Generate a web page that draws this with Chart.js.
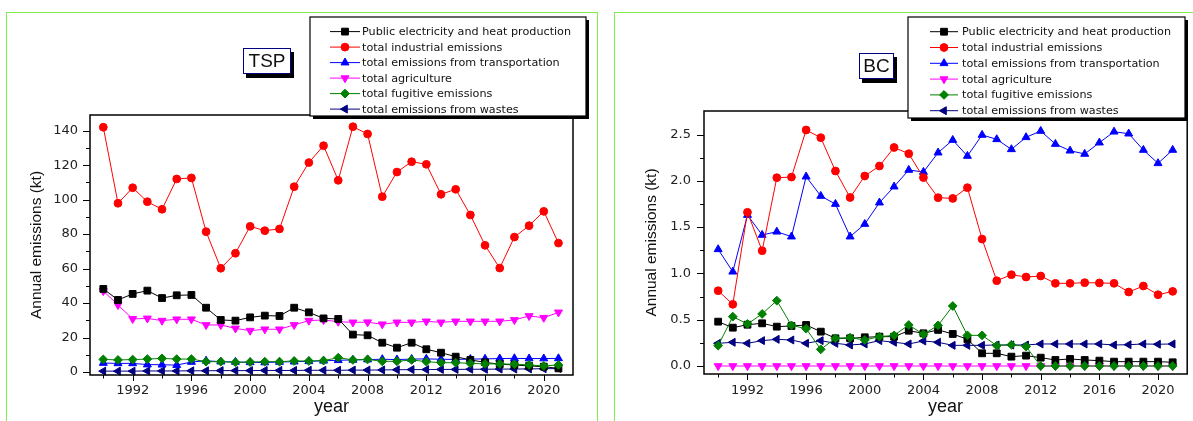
<!DOCTYPE html>
<html>
<head>
<meta charset="utf-8">
<script src="https://cdn.jsdelivr.net/npm/chart.js@4/dist/chart.umd.min.js"></script>
<style>
  html, body { margin: 0; padding: 0; background: #fff; width: 1193px; height: 421px; overflow: hidden; position: relative; }
  canvas { position: absolute; top: 0; }
  .panel { position: absolute; top: 12px; height: 420px; border: 1px solid #7fec4e; border-bottom: none; }
</style>
</head>
<body>
<div class="panel" style="left:6px; width:590px;"></div>
<div class="panel" style="left:614px; width:620px;"></div>
<canvas id="tsp" width="600" height="421" style="left:0;"></canvas>
<canvas id="bc" width="593" height="421" style="left:600px;"></canvas>
<script>
// ---- data ----
const years = [1990, 1991, 1992, 1993, 1994, 1995, 1996, 1997, 1998, 1999,
               2000, 2001, 2002, 2003, 2004, 2005, 2006, 2007, 2008, 2009,
               2010, 2011, 2012, 2013, 2014, 2015, 2016, 2017, 2018, 2019,
               2020, 2021];

const seriesNames = [
  'Public electricity and heat production',
  'total industrial emissions',
  'total emissions from transportation',
  'total agriculture',
  'total fugitive emissions',
  'total emissions from wastes'
];

// TSP (kt)
const tspPublic      = [48.2, 41.8, 45.3, 47.2, 42.9, 44.5, 44.7, 37.3, 30.2, 29.8,
                        31.7, 32.7, 32.5, 37.3, 34.6, 31.1, 30.8, 21.7, 21.3, 17.0,
                        14.1, 17.0, 13.2, 11.2, 8.9, 7.0, 5.6, 4.5, 4.1, 3.5,
                        3.1, 2.1];
const tspIndustrial  = [142.0, 97.9, 106.9, 98.8, 94.4, 112.0, 112.6, 81.4, 60.2, 68.9,
                        84.5, 82.0, 83.0, 107.5, 121.5, 131.3, 111.2, 142.3, 138.1, 101.7,
                        116.0, 122.0, 120.5, 103.1, 106.0, 91.1, 73.5, 60.3, 78.3, 84.9,
                        93.2, 74.8];
const tspTransport   = [5.2, 5.0, 5.0, 4.3, 4.2, 4.0, 5.8, 6.5, 6.0, 5.8,
                        5.6, 5.5, 5.8, 6.0, 6.2, 6.5, 6.8, 7.0, 7.2, 7.4,
                        7.2, 7.5, 7.6, 7.4, 7.3, 7.5, 7.6, 7.8, 7.9, 7.8,
                        7.8, 7.9];
const tspAgriculture = [47.0, 38.9, 30.8, 31.1, 29.8, 30.6, 30.6, 27.3, 27.3, 25.3,
                        24.0, 24.8, 24.8, 27.3, 29.8, 30.2, 29.2, 28.8, 28.9, 27.7,
                        28.8, 28.8, 29.4, 28.8, 29.4, 29.4, 29.4, 29.4, 30.2, 32.5,
                        31.5, 34.6];
const tspFugitive    = [7.3, 7.0, 7.2, 7.5, 7.9, 7.5, 7.5, 6.0, 6.0, 5.6,
                        5.8, 6.0, 6.0, 6.4, 6.4, 6.6, 8.3, 7.0, 7.3, 6.2,
                        6.2, 7.0, 6.0, 5.4, 5.4, 5.0, 4.7, 4.7, 4.5, 4.1,
                        3.5, 4.1];
const tspWastes      = [0.5, 0.5, 0.5, 0.6, 0.6, 0.6, 0.7, 0.7, 0.8, 0.8,
                        0.8, 0.9, 0.9, 0.9, 1.0, 1.0, 1.0, 1.1, 1.1, 1.2,
                        1.3, 1.4, 1.4, 1.5, 1.5, 1.6, 1.6, 1.7, 1.7, 1.8,
                        1.9, 2.0];

// BC (kt)
const bcPublic      = [0.479, 0.414, 0.446, 0.461, 0.425, 0.432, 0.443, 0.371, 0.299, 0.299,
                       0.310, 0.317, 0.317, 0.381, 0.353, 0.390, 0.346, 0.288, 0.137, 0.137,
                       0.101, 0.112, 0.090, 0.065, 0.076, 0.065, 0.058, 0.047, 0.047, 0.047,
                       0.047, 0.040];
const bcIndustrial  = [0.813, 0.666, 1.660, 1.245, 2.034, 2.040, 2.549, 2.466, 2.106, 1.820,
                       2.052, 2.160, 2.360, 2.293, 2.035, 1.818, 1.810, 1.926, 1.371, 0.921,
                       0.986, 0.961, 0.972, 0.893, 0.893, 0.900, 0.897, 0.893, 0.799, 0.864,
                       0.770, 0.806];
const bcTransport   = [1.260, 1.018, 1.630, 1.415, 1.450, 1.397, 2.045, 1.836, 1.749, 1.397,
                       1.533, 1.764, 1.937, 2.117, 2.095, 2.304, 2.440, 2.268, 2.495, 2.448,
                       2.340, 2.470, 2.538, 2.397, 2.325, 2.290, 2.412, 2.530, 2.509, 2.333,
                       2.189, 2.333];
const bcAgriculture = [0, 0, 0, 0, 0, 0, 0, 0, 0, 0,
                       0, 0, 0, 0, 0, 0, 0, 0, 0, 0,
                       0, 0, 0, 0, 0, 0, 0, 0, 0, 0,
                       0, 0];
const bcFugitive    = [0.220, 0.533, 0.454, 0.562, 0.706, 0.439, 0.403, 0.180, 0.299, 0.306,
                       0.281, 0.317, 0.331, 0.443, 0.342, 0.439, 0.648, 0.331, 0.331, 0.220,
                       0.230, 0.210, 0, 0, 0, 0, 0, 0, 0, 0,
                       0, 0];
const bcWastes      = [0.245, 0.256, 0.245, 0.274, 0.288, 0.281, 0.245, 0.274, 0.245, 0.227,
                       0.238, 0.274, 0.256, 0.238, 0.270, 0.256, 0.223, 0.223, 0.223, 0.227,
                       0.227, 0.227, 0.238, 0.238, 0.238, 0.238, 0.238, 0.227, 0.230, 0.238,
                       0.235, 0.238];

// tick positions
const xMajorTicks   = [1992, 1996, 2000, 2004, 2008, 2012, 2016, 2020];
const xMinorTicks   = [1990, 1994, 1998, 2002, 2006, 2010, 2014, 2018];
const tspMajorTicks = [0, 20, 40, 60, 80, 100, 120, 140];
const tspMinorTicks = [10, 30, 50, 70, 90, 110, 130];
const bcMajorTicks  = [0, 0.5, 1.0, 1.5, 2.0, 2.5];
const bcMinorTicks  = [0.25, 0.75, 1.25, 1.75, 2.25];

// ---- styling ----
const seriesColors = ['#000000', '#ff0000', '#0000ff', '#ff00ff', '#008000', '#000080'];
const markerStyles = ['rect', 'circle', 'triangle', 'triangle', 'rectRot', 'triangle'];
const markerAngles = [0, 0, 0, 180, 0, 270];
const markerSizes  = [4.8, 3.9, 4.6, 4.6, 4.4, 4.6];

// marker outline shared by the legend samples (same geometry as Chart.js point styles)
function drawMarker(ctx, style, angle, r, x, y) {
  const rad = angle * Math.PI / 180;
  ctx.beginPath();
  if (style === 'circle') {
    ctx.arc(x, y, r, 0, Math.PI * 2);
  } else if (style === 'rect') {
    const s = Math.SQRT1_2 * r;
    ctx.rect(x - s, y - s, 2 * s, 2 * s);
  } else if (style === 'rectRot') {
    ctx.moveTo(x, y - r); ctx.lineTo(x + r, y); ctx.lineTo(x, y + r); ctx.lineTo(x - r, y);
    ctx.closePath();
  } else {
    let a = rad;
    ctx.moveTo(x + Math.sin(a) * r, y - Math.cos(a) * r);
    a += 2 * Math.PI / 3;
    ctx.lineTo(x + Math.sin(a) * r, y - Math.cos(a) * r);
    a += 2 * Math.PI / 3;
    ctx.lineTo(x + Math.sin(a) * r, y - Math.cos(a) * r);
    ctx.closePath();
  }
  ctx.fill();
  ctx.stroke();
}

// plot frame, outward tick marks, legend box and panel tag
const panelDecor = {
  id: 'panelDecor',
  afterDraw(chart, args, o) {
    const { ctx, chartArea: a, scales: { x, y } } = chart;
    ctx.save();
    // frame
    ctx.strokeStyle = '#000';
    ctx.lineWidth = 1.5;
    ctx.strokeRect(a.left, a.top, a.right - a.left, a.bottom - a.top);
    // ticks
    ctx.lineWidth = 1;
    ctx.beginPath();
    xMajorTicks.forEach(v => { const p = Math.round(x.getPixelForValue(v)) + 0.5; ctx.moveTo(p, a.bottom); ctx.lineTo(p, a.bottom + 6); });
    xMinorTicks.forEach(v => { const p = Math.round(x.getPixelForValue(v)) + 0.5; ctx.moveTo(p, a.bottom); ctx.lineTo(p, a.bottom + 3.5); });
    o.yMajor.forEach(v => { const p = Math.round(y.getPixelForValue(v)) + 0.5; ctx.moveTo(a.left, p); ctx.lineTo(a.left - 7, p); });
    o.yMinor.forEach(v => { const p = Math.round(y.getPixelForValue(v)) + 0.5; ctx.moveTo(a.left, p); ctx.lineTo(a.left - 4, p); });
    ctx.stroke();

    // legend
    const L = o.legend;
    ctx.fillStyle = '#000';
    ctx.fillRect(L.x + 3, L.y + 3, L.w, L.h);
    ctx.fillStyle = '#fff';
    ctx.fillRect(L.x, L.y, L.w, L.h);
    ctx.lineWidth = 1.2;
    ctx.strokeStyle = '#000';
    ctx.strokeRect(L.x, L.y, L.w, L.h);
    ctx.font = "11.2px 'DejaVu Sans'";
    ctx.textBaseline = 'middle';
    ctx.textAlign = 'left';
    seriesNames.forEach((name, i) => {
      const ry = L.row0 + i * L.step;
      ctx.strokeStyle = seriesColors[i];
      ctx.fillStyle = seriesColors[i];
      ctx.lineWidth = 1;
      ctx.beginPath();
      ctx.moveTo(L.lineX0, ry); ctx.lineTo(L.lineX1, ry);
      ctx.stroke();
      drawMarker(ctx, markerStyles[i], markerAngles[i], markerSizes[i], (L.lineX0 + L.lineX1) / 2, ry);
      ctx.fillStyle = '#111';
      ctx.fillText(name, L.textX, ry + 0.5);
    });

    // panel tag
    const T = o.tag;
    ctx.fillStyle = '#000';
    ctx.fillRect(T.x + 3, T.y + 4, T.w, T.h);
    ctx.fillStyle = '#fff';
    ctx.fillRect(T.x, T.y, T.w, T.h);
    ctx.lineWidth = 1;
    ctx.strokeRect(T.x + 0.5, T.y + 0.5, T.w - 1, T.h - 1);
    ctx.fillStyle = '#111';
    ctx.font = T.font;
    ctx.textAlign = 'center';
    ctx.fillText(T.text, T.x + T.w / 2, T.y + T.h / 2 + 1);
    ctx.restore();
  }
};

function buildChart(id, cfg) {
  const datasets = cfg.series.map((vals, i) => ({
    label: seriesNames[i],
    data: years.map((yr, k) => ({ x: yr, y: vals[k] })),
    borderColor: seriesColors[i],
    backgroundColor: seriesColors[i],
    borderWidth: 1,
    pointStyle: markerStyles[i],
    pointRotation: markerAngles[i],
    pointRadius: markerSizes[i],
    pointHoverRadius: markerSizes[i],
    pointBorderWidth: 1,
    tension: 0,
    clip: false,
    order: i === 4 ? -1 : i
  }));
  return new Chart(document.getElementById(id), {
    type: 'line',
    data: { datasets },
    options: {
      responsive: false,
      animation: false,
      devicePixelRatio: 1,
      events: [],
      layout: { padding: { left: 0, top: cfg.top, right: cfg.padRight, bottom: 0 } },
      plugins: {
        legend: { display: false },
        tooltip: { enabled: false },
        panelDecor: { yMajor: cfg.yMajor, yMinor: cfg.yMinor, legend: cfg.legend, tag: cfg.tag }
      },
      scales: {
        x: {
          type: 'linear',
          min: cfg.xMin, max: cfg.xMax,
          grid: { display: false, drawTicks: false },
          border: { display: false },
          afterBuildTicks: s => { s.ticks = xMajorTicks.map(v => ({ value: v })); },
          afterFit: s => { s.height = cfg.xHeight; },
          ticks: {
            autoSkip: false, maxRotation: 0, padding: cfg.xPad, color: '#222',
            font: { family: 'DejaVu Sans', size: 13 },
            callback: v => String(v)
          },
          title: {
            display: true, text: 'year', color: '#111',
            font: { family: 'Liberation Sans', size: 18 },
            padding: { top: 0, bottom: 3 }
          }
        },
        y: {
          type: 'linear',
          min: cfg.yMin, max: cfg.yMax,
          grid: { display: false, drawTicks: false },
          border: { display: false },
          afterBuildTicks: s => { s.ticks = cfg.yMajor.map(v => ({ value: v })); },
          afterFit: s => { s.width = cfg.yWidth; },
          ticks: {
            autoSkip: false, padding: cfg.yPad, color: '#222',
            font: { family: 'DejaVu Sans', size: 13 },
            callback: cfg.yFormat
          },
          title: {
            display: true, text: 'Annual emissions (kt)', color: '#111',
            font: { family: 'Liberation Sans', size: 15.5 },
            padding: { top: cfg.yTitlePad, bottom: 0 }
          }
        }
      }
    },
    plugins: [panelDecor]
  });
}

buildChart('tsp', {
  series: [tspPublic, tspIndustrial, tspTransport, tspAgriculture, tspFugitive, tspWastes],
  xMin: 1989.094, xMax: 2021.99,
  yMin: -1.74, yMax: 149.1,
  yMajor: tspMajorTicks, yMinor: tspMinorTicks,
  yFormat: v => String(v),
  top: 115, padRight: 27, xHeight: 46, yWidth: 90,
  xPad: 8, yPad: 12, yTitlePad: 27.4,
  legend: { x: 310, y: 17, w: 276, h: 99, row0: 31.6, step: 15.5, lineX0: 330, lineX1: 360, textX: 362 },
  tag: { x: 243, y: 48, w: 48, h: 26, text: 'TSP', font: "19px 'Liberation Sans'" }
});

buildChart('bc', {
  series: [bcPublic, bcIndustrial, bcTransport, bcAgriculture, bcFugitive, bcWastes],
  xMin: 1989.035, xMax: 2021.99,
  yMin: -0.0864, yMax: 2.754,
  yMajor: bcMajorTicks, yMinor: bcMinorTicks,
  yFormat: v => Number(v).toFixed(1),
  top: 111, padRight: 3.7, xHeight: 47, yWidth: 104,
  xPad: 9, yPad: 13, yTitlePad: 42.4,
  legend: { x: 308, y: 17, w: 277, h: 101, row0: 31.7, step: 15.8, lineX0: 330, lineX1: 358, textX: 362 },
  tag: { x: 259, y: 53, w: 35, h: 26, text: 'BC', font: "19px 'Liberation Sans'" }
});
</script>
</body>
</html>
